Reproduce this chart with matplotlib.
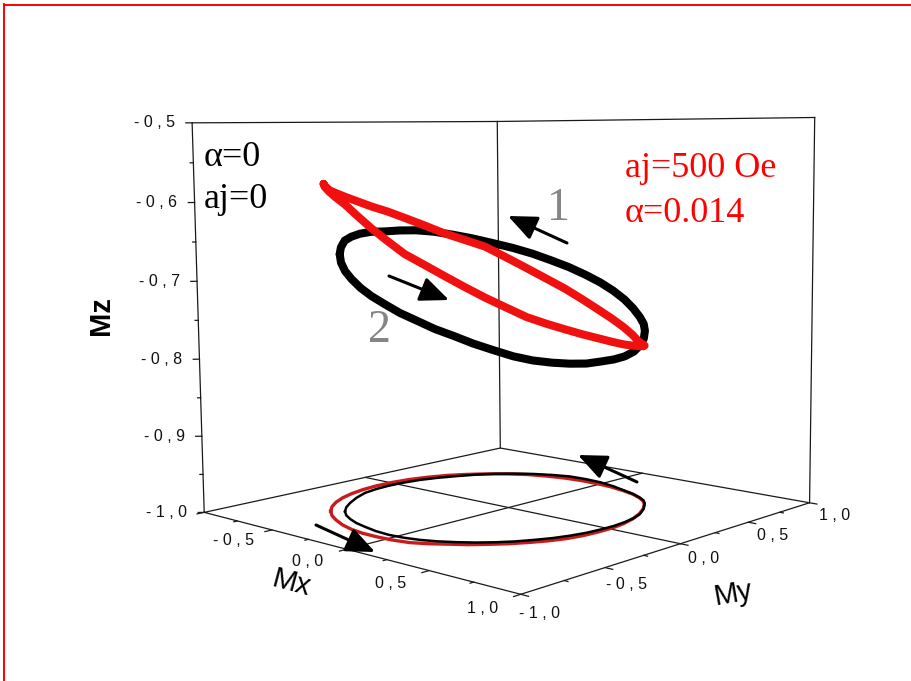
import numpy as np
import matplotlib.pyplot as plt
from matplotlib.lines import Line2D
from matplotlib.patches import FancyArrowPatch

# orbit 1: alpha = 0, aj = 0
mx_free = [-0.518, -0.578, -0.630, -0.689, -0.737, -0.758, -0.767, -0.762,
           -0.746, -0.714, -0.671, -0.621, -0.561, -0.488, -0.408, -0.321,
           -0.229, -0.126, -0.022, 0.083, 0.184, 0.261, 0.332, 0.383,
           0.426, 0.488, 0.540, 0.568, 0.584, 0.592, 0.589, 0.580,
           0.559, 0.530, 0.490, 0.446, 0.392, 0.332, 0.265, 0.195,
           0.121, 0.040, -0.044, -0.137, -0.230, -0.312, -0.391, -0.458]
my_free = [-0.557, -0.497, -0.428, -0.335, -0.237, -0.146, -0.052, 0.045,
           0.141, 0.234, 0.323, 0.412, 0.493, 0.562, 0.621, 0.665,
           0.698, 0.703, 0.695, 0.668, 0.629, 0.601, 0.562, 0.527,
           0.482, 0.396, 0.303, 0.223, 0.139, 0.054, -0.032, -0.119,
           -0.205, -0.286, -0.363, -0.436, -0.502, -0.561, -0.611, -0.655,
           -0.687, -0.708, -0.717, -0.710, -0.690, -0.669, -0.637, -0.602]
mz_free = [-0.667, -0.660, -0.653, -0.650, -0.648, -0.647, -0.648, -0.648,
           -0.649, -0.652, -0.657, -0.663, -0.670, -0.677, -0.685, -0.694,
           -0.703, -0.712, -0.721, -0.730, -0.739, -0.749, -0.758, -0.765,
           -0.772, -0.778, -0.783, -0.788, -0.791, -0.792, -0.792, -0.792,
           -0.790, -0.787, -0.783, -0.777, -0.769, -0.761, -0.752, -0.744,
           -0.735, -0.727, -0.718, -0.710, -0.702, -0.693, -0.685, -0.676]

# orbit 2: aj = 500 Oe, alpha = 0.014
mx_stt = [-0.574, -0.639, -0.694, -0.740, -0.774, -0.799, -0.811, -0.809,
          -0.794, -0.762, -0.718, -0.658, -0.588, -0.508, -0.420, -0.320,
          -0.217, -0.113, -0.009, 0.087, 0.180, 0.258, 0.329, 0.384,
          0.431, 0.489, 0.537, 0.573, 0.598, 0.610, 0.609, 0.601,
          0.580, 0.546, 0.501, 0.451, 0.392, 0.330, 0.260, 0.192,
          0.118, 0.030, -0.060, -0.150, -0.239, -0.333, -0.423, -0.502]
my_stt = [-0.596, -0.532, -0.459, -0.377, -0.290, -0.193, -0.094, 0.009,
          0.111, 0.210, 0.305, 0.390, 0.468, 0.535, 0.592, 0.629,
          0.654, 0.664, 0.661, 0.649, 0.625, 0.598, 0.560, 0.521,
          0.473, 0.391, 0.301, 0.209, 0.113, 0.021, -0.073, -0.165,
          -0.255, -0.335, -0.411, -0.483, -0.548, -0.609, -0.660, -0.710,
          -0.749, -0.768, -0.775, -0.774, -0.761, -0.733, -0.693, -0.650]
mz_stt = [-0.578, -0.582, -0.588, -0.593, -0.599, -0.606, -0.614, -0.622,
          -0.632, -0.643, -0.655, -0.665, -0.675, -0.690, -0.705, -0.719,
          -0.732, -0.745, -0.757, -0.767, -0.776, -0.784, -0.791, -0.792,
          -0.791, -0.788, -0.784, -0.780, -0.775, -0.769, -0.762, -0.755,
          -0.747, -0.739, -0.730, -0.718, -0.706, -0.693, -0.680, -0.667,
          -0.655, -0.640, -0.626, -0.612, -0.600, -0.592, -0.586, -0.581]

z_major = [-1.0, -0.9, -0.8, -0.7, -0.6, -0.5]
z_minor = [-0.95, -0.85, -0.75, -0.65, -0.55]
xy_major = [-1.0, -0.5, 0.0, 0.5, 1.0]
xy_minor = [-0.75, -0.25, 0.25, 0.75]
mx_labelled = [-0.5, 0.0, 0.5, 1.0]

W, H = 912, 681
fig = plt.figure(figsize=(W / 100, H / 100), dpi=100)
ax = fig.add_axes([0.1582, 0.0026, 0.7744, 1.0371], projection='3d',
                  computed_zorder=False)
ax.set_proj_type('persp', focal_length=0.4229)
ax.view_init(elev=6.66, azim=-46.75, roll=0.5)
ax.set_box_aspect((1, 1, 0.898))
ax.set_xlim(-1, 1)
ax.set_ylim(-1, 1)
ax.set_zlim(-1.0, -0.5)
ax.set_axis_off()
ax.patch.set_visible(False)

zlo, zhi = -1.0, -0.5
ek = dict(color='#1a1a1a', lw=0.9)

# frame: floor, back walls, zero lines on the floor
floor = [(-1, -1), (1, -1), (1, 1), (-1, 1), (-1, -1)]
ax.plot([p[0] for p in floor], [p[1] for p in floor], [zlo] * 5, **ek)
for cx, cy in [(-1, -1), (-1, 1), (1, 1)]:
    ax.plot([cx, cx], [cy, cy], [zlo, zhi], **ek)
ax.plot([-1, -1, 1], [-1, 1, 1], [zhi] * 3, **ek)
ax.plot([0, 0], [-1, 1], [zlo, zlo], **ek)
ax.plot([-1, 1], [0, 0], [zlo, zlo], **ek)

M = ax.get_proj()


def put(x, y, z, s, **kw):
    # place a flat label at a projected 3d position
    v = M @ np.array([x, y, z, 1.0])
    ax.text2D(v[0] / v[3], v[1] / v[3], s, transform=ax.transData, **kw)


def lab(v):
    return ' '.join(f'{v:.1f}'.replace('.', ','))


tk = dict(fontsize=11.5, family='Liberation Sans', color='#111111')

# Mz axis on the front-left edge
for z in z_major:
    ax.plot([-1, -1.02], [-1, -1.02], [z, z], **ek)
    put(-1.055, -1.055, z, lab(z), ha='right', va='center', **tk)
for z in z_minor:
    ax.plot([-1, -1.01], [-1, -1.01], [z, z], **ek)

# Mx axis along y = -1
for x in xy_major:
    ax.plot([x, x], [-1, -1.04], [zlo, zlo], **ek)
for x in xy_minor:
    ax.plot([x, x], [-1, -1.02], [zlo, zlo], **ek)
for x in mx_labelled:
    put(x + 0.021, -1.23, zlo, lab(x), ha='center', va='center', **tk)

# My axis along x = 1
for y in xy_major:
    ax.plot([1, 1.04], [y, y], [zlo, zlo], **ek)
    put(1.218, y - 0.133, zlo, lab(y), ha='center', va='center', **tk)
for y in xy_minor:
    ax.plot([1, 1.02], [y, y], [zlo, zlo], **ek)


def closed(v):
    return np.append(v, v[0])


# projections on the floor
ax.plot(closed(mx_stt), closed(my_stt), np.full(len(mx_stt) + 1, zlo),
        color='#c81c1c', lw=2.4)
ax.plot(closed(mx_free), closed(my_free), np.full(len(mx_free) + 1, zlo),
        color='black', lw=1.8)

# trajectories
ax.plot(closed(mx_free), closed(my_free), closed(mz_free), color='black',
        lw=5.8, solid_capstyle='round', solid_joinstyle='round')
ax.plot(closed(mx_stt), closed(my_stt), closed(mz_stt), color='#f01010',
        lw=5.8, solid_capstyle='round', solid_joinstyle='round')


def px(x, y):
    return (x / W, 1 - y / H)


axis_font = dict(fontsize=21, family='Liberation Sans', ha='center', va='center')
fig.text(*px(101, 316), 'Mz', rotation=90, fontweight='bold', **axis_font)
fig.text(*px(291, 583), 'Mx', rotation=-15, **axis_font)
fig.text(*px(733, 594), 'My', rotation=10, **axis_font)

for tail, tip in [((567, 243), (508, 216)), ((389, 276), (449, 300)),
                  ((637, 482), (578, 455)), ((316, 525), (375, 552))]:
    fig.add_artist(FancyArrowPatch(px(*tail), px(*tip), transform=fig.transFigure,
                                   arrowstyle='-|>,head_length=0.7,head_width=0.3',
                                   mutation_scale=25, lw=2.2, color='black',
                                   shrinkA=0, shrinkB=0))

serif = dict(family='Liberation Serif', va='baseline', ha='left')
fig.text(*px(204, 166), 'α=0', fontsize=26, color='black', **serif)
fig.text(*px(204, 208), 'aj=0', fontsize=26, color='black', **serif)
fig.text(*px(625, 177), 'aj=500 Oe', fontsize=26, color='red', **serif)
fig.text(*px(625, 222), 'α=0.014', fontsize=26, color='red', **serif)
fig.text(*px(547, 220), '1', fontsize=33, color='#858585', **serif)
fig.text(*px(368, 342), '2', fontsize=33, color='#858585', **serif)

# page border
fig.add_artist(Line2D([4 / W, 1], [1 - 4.5 / H, 1 - 4.5 / H], color='red', lw=1.4,
                      transform=fig.transFigure))
fig.add_artist(Line2D([4.5 / W, 4.5 / W], [0, 1 - 4 / H], color='red', lw=1.4,
                      transform=fig.transFigure))

fig.savefig('out.png', dpi=100)
